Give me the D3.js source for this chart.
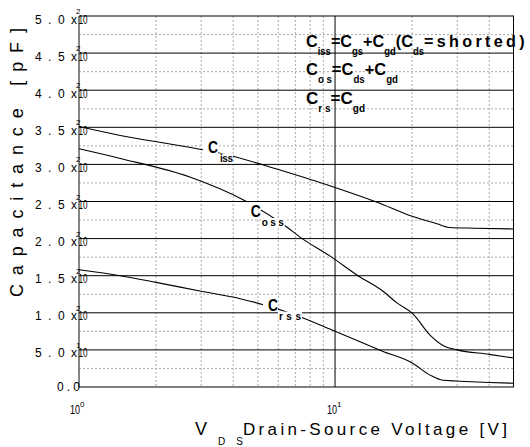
<!DOCTYPE html>
<html>
<head>
<meta charset="utf-8">
<script src="https://cdn.jsdelivr.net/npm/d3@7"></script>
<style>
  body { margin: 0; background: #fff; }
  svg text { font-family: "Liberation Sans", Arial, sans-serif; fill: #000; }
</style>
</head>
<body>
<div id="d3-container"></div>
<script>
/**
 * CONSTANTS AND GLOBALS
 * */
const width = 530,
  height = 447,
  margin = { top: 16, bottom: 58, left: 79, right: 16 };

// capacitance curves (V in volts, C in pF)
const vIss = [1, 1.45, 2.7, 4, 6, 9.6, 14.6, 20, 25, 28, 35, 50];
const cIss = [351, 339, 323, 311, 293, 271, 249, 230, 220, 215, 214, 213];

const vOss = [1, 1.45, 2.71, 4.45, 6.4, 7.3, 9.6, 12.3, 15.4, 17.5, 20.1, 23.5, 26.4, 30, 40, 50];
const cOss = [321, 308, 283, 251, 217, 202, 176, 150, 129, 113, 99, 70, 56, 50, 44, 39];

const vRss = [1, 1.45, 2, 3, 4.26, 7, 10, 15.4, 20.1, 23.5, 26.4, 30, 40, 50];
const cRss = [158, 150, 141, 129, 119, 97, 75, 48, 32, 16, 9, 8, 6, 5];

// axis ticks
const xMajor = [1, 10];
const xMinor = [2, 3, 4, 5, 6, 7, 8, 9, 20, 30, 40];
const yMajor = d3.range(0, 501, 50);
const yMinor = d3.range(25, 500, 50);

// curve labels: [main, subscript, V, C]
const curveLabels = [
  ["C", "iss", 3.19, 316],
  ["C", "oss", 4.69, 229],
  ["C", "rss", 5.47, 103],
];

let svg;

/**
 * SCALES
 * */
const x = d3.scaleLog().domain([1, 50]).range([margin.left, width - margin.right]);
const y = d3.scaleLinear().domain([0, 500]).range([height - margin.bottom - 2, margin.top]);

init();

function init() {
  svg = d3.select("#d3-container")
    .append("svg")
    .attr("width", width)
    .attr("height", height);

  const x0 = x.range()[0], x1 = x.range()[1];
  const y0 = y.range()[0], y1 = y.range()[1];

  // + GRID
  svg.append("g")
    .selectAll("line")
    .data(xMinor)
    .join("line")
    .attr("x1", d => x(d)).attr("x2", d => x(d))
    .attr("y1", y1).attr("y2", y0)
    .attr("stroke", "#aaa")
    .attr("stroke-dasharray", "2,2");

  svg.append("g")
    .selectAll("line")
    .data(yMinor)
    .join("line")
    .attr("x1", x0).attr("x2", x1)
    .attr("y1", d => y(d)).attr("y2", d => y(d))
    .attr("stroke", "#aaa")
    .attr("stroke-dasharray", "2,2");

  svg.append("g")
    .selectAll("line")
    .data(yMajor)
    .join("line")
    .attr("x1", x0).attr("x2", x1)
    .attr("y1", d => y(d)).attr("y2", d => y(d))
    .attr("stroke", "#000");

  svg.append("line")
    .attr("x1", x(10)).attr("x2", x(10))
    .attr("y1", y1).attr("y2", y0)
    .attr("stroke", "#000");

  // frame: left axis + right edge
  svg.append("line")
    .attr("x1", x0).attr("x2", x0).attr("y1", y1).attr("y2", y0)
    .attr("stroke", "#444").attr("stroke-width", 1.3);
  svg.append("line")
    .attr("x1", x1 - 0.5).attr("x2", x1 - 0.5).attr("y1", y1).attr("y2", y0)
    .attr("stroke", "#000");

  // + CURVES
  const line = d3.line()
    .x(d => x(d[0]))
    .y(d => y(d[1]))
    .curve(d3.curveMonotoneX);

  [[vIss, cIss], [vOss, cOss], [vRss, cRss]].forEach(([vs, cs]) => {
    svg.append("path")
      .datum(vs.map((v, i) => [v, cs[i]]))
      .attr("d", line)
      .attr("fill", "none")
      .attr("stroke", "#000")
      .attr("stroke-width", 1.1);
  });

  // + CURVE LABELS (white box knocks out the lines behind)
  curveLabels.forEach(([main, sub, v, c]) => {
    const lx = x(v), ly = y(c);
    const g = svg.append("g");
    g.append("rect").attr("x", lx - 5).attr("y", ly - 15).attr("width", 15).attr("height", 16).attr("fill", "#fff");
    g.append("rect").attr("x", lx + 10).attr("y", ly + 1).attr("width", sub === "iss" ? 15 : 24).attr("height", 9).attr("fill", "#fff");
    g.append("text")
      .attr("x", lx).attr("y", ly)
      .attr("font-size", 17).attr("font-weight", "bold")
      .attr("textLength", 10).attr("lengthAdjust", "spacingAndGlyphs")
      .text(main);
    g.append("text")
      .attr("x", sub === "iss" ? lx + 12 : lx + 11).attr("y", ly + 9)
      .attr("font-size", 10).attr("font-weight", "bold")
      .attr("textLength", sub === "iss" ? 13 : 22).attr("lengthAdjust", "spacing")
      .text(sub);
  });

  // + LEGEND (formulas)
  const legend = [
    { parts: [["C"], ["iss", 1], ["=C"], ["gs", 1], ["+C"], ["gd", 1], ["(C"], ["ds", 1], ["=shorted)", 0, 3.5]], len: 222, base: 47 },
    { parts: [["C"], ["o s", 1], ["=C"], ["ds", 1], ["+C"], ["gd", 1]], len: 92, base: 75 },
    { parts: [["C"], ["r s", 1], ["=C"], ["gd", 1]], len: 59, base: 104 },
  ];
  legend.forEach(l => {
    const t = svg.append("text")
      .attr("x", 306).attr("y", l.base)
      .attr("font-weight", "bold")
      .attr("textLength", l.len).attr("lengthAdjust", "spacingAndGlyphs");
    let shift = 0;
    l.parts.forEach(([s, isSub, ls]) => {
      const want = isSub ? 8 : 0;
      t.append("tspan")
        .attr("dy", want - shift)
        .attr("font-size", isSub ? 10 : 17)
        .attr("letter-spacing", ls || 0)
        .text(s);
      shift = want;
    });
  });

  // + Y TICK LABELS
  yMajor.forEach(v => {
    const ty = y(v);
    if (v === 0) {
      svg.append("text")
        .attr("x", 80).attr("y", ty + 3.5)
        .attr("text-anchor", "end").attr("font-size", 12)
        .attr("textLength", 23).attr("lengthAdjust", "spacing")
        .text("0.0");
      return;
    }
    const e = v >= 100 ? 2 : 1;
    svg.append("text")
      .attr("x", 77).attr("y", ty + 7.5)
      .attr("text-anchor", "end").attr("font-size", 12)
      .attr("textLength", 42).attr("lengthAdjust", "spacing")
      .text((v / 10 ** e).toFixed(1) + "x");
    svg.append("text")
      .attr("x", 78.5).attr("y", ty + 7.5)
      .attr("font-size", 12)
      .attr("textLength", 9).attr("lengthAdjust", "spacingAndGlyphs")
      .text("10");
    svg.append("text")
      .attr("x", 76).attr("y", ty - 2)
      .attr("font-size", 8)
      .text(e);
  });

  // + X TICK LABELS
  xMajor.forEach((v, i) => {
    const tx = x(v);
    svg.append("text")
      .attr("x", tx - 9 + i).attr("y", 414)
      .attr("font-size", 12)
      .attr("textLength", 10).attr("lengthAdjust", "spacingAndGlyphs")
      .text("10");
    svg.append("text")
      .attr("x", tx + 1 + i).attr("y", 407)
      .attr("font-size", 8)
      .text(i);
  });

  // + AXIS TITLES
  svg.append("text")
    .attr("x", 195).attr("y", 435)
    .attr("font-size", 18)
    .text("V");
  svg.append("text")
    .attr("x", 218).attr("y", 445)
    .attr("font-size", 10)
    .attr("textLength", 25).attr("lengthAdjust", "spacing")
    .text("D S");
  svg.append("text")
    .attr("x", 243).attr("y", 435)
    .attr("font-size", 17)
    .attr("textLength", 264).attr("lengthAdjust", "spacing")
    .text("Drain-Source Voltage [V]");

  svg.append("text")
    .attr("transform", "translate(23,297) rotate(-90)")
    .attr("font-size", 18)
    .attr("textLength", 269).attr("lengthAdjust", "spacing")
    .text("Capacitance [pF]");
}
</script>
</body>
</html>
